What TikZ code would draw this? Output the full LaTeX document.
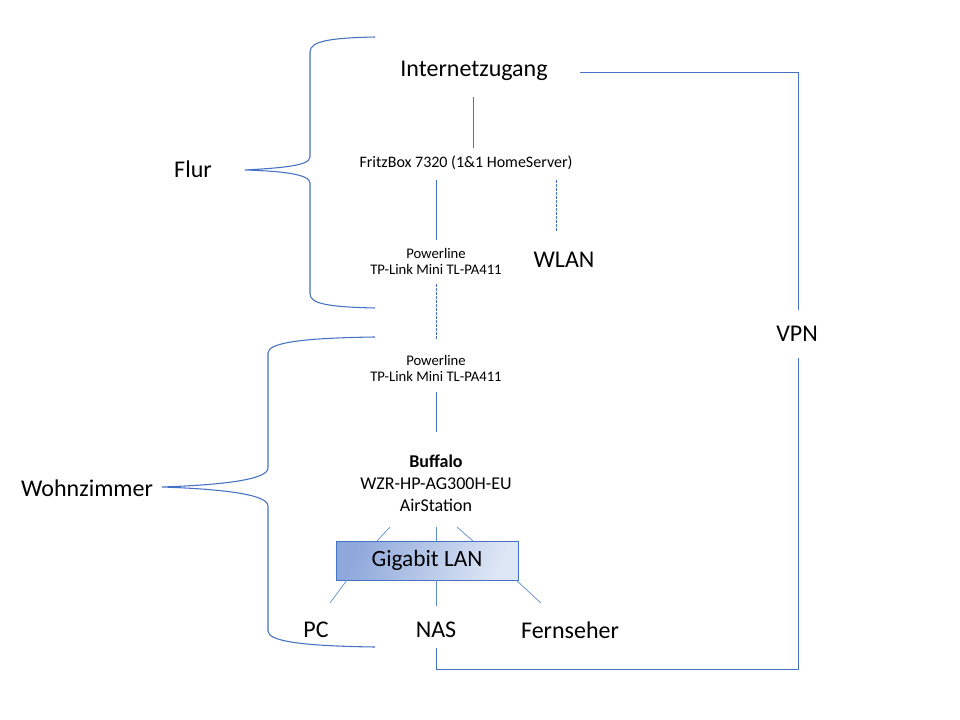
\documentclass[tikz,border=0pt]{standalone}
\usepackage{fontspec}
\setmainfont{Carlito}
\definecolor{lineblue}{RGB}{68,114,196}
\definecolor{thinblue}{RGB}{91,140,205}
\definecolor{boxdark}{RGB}{142,168,219}
\definecolor{boxlight}{RGB}{222,231,245}
\begin{document}
\begin{tikzpicture}[x=0.75pt,y=-0.75pt,
  big/.style={font=\fontsize{18}{21}\selectfont, inner sep=0pt},
  mid/.style={font=\fontsize{13.5}{16.5}\selectfont, inner sep=0pt, align=center},
  small/.style={font=\fontsize{11}{12}\selectfont, inner sep=0pt, align=center},
  conn/.style={draw=lineblue, line width=0.6pt},
  thin/.style={draw=thinblue, line width=0.5pt},
  dash line/.style={draw=lineblue, line width=0.6pt, dash pattern=on 2pt off 1pt},
  brace/.style={draw=lineblue, line width=0.8pt}]
\useasboundingbox (0,0) rectangle (960,720);
\fill[white] (0,0) rectangle (960,720);

% nodes
\node[big] (inet) at (474,71) {Internetzugang};
\node[font=\fontsize{12}{14}\selectfont, inner sep=0pt] (fritz) at (466,163) {FritzBox 7320 (1\&1 HomeServer)};
\node[small] (pl1) at (436,261) {Powerline\\TP-Link Mini TL-PA411};
\node[big] (wlan) at (564,260) {WLAN};
\node[small] (pl2) at (436,368) {Powerline\\TP-Link Mini TL-PA411};
\node[mid] (buff) at (436,483) {\bfseries Buffalo\\WZR-HP-AG300H-EU\\AirStation};
\node[font=\fontsize{17.5}{20}\selectfont, draw=lineblue, line width=0.6pt,
      left color=boxdark, right color=boxlight, shading angle=70,
      minimum width=182*0.75pt, minimum height=39*0.75pt, inner sep=0pt] (lan) at (427,560.5) {Gigabit LAN};
\node[big] (pc) at (316,630) {PC};
\node[big] (nas) at (436,630) {NAS};
\node[big] (tv) at (570,630) {Fernseher};
\node[big] (vpn) at (797,334) {VPN};
\node[big] (flur) at (193,169) {Flur};
\node[big] (wohn) at (87,488) {Wohnzimmer};

% coordinates for connector ends
\coordinate (i1) at (473,97);   \coordinate (i2) at (473,148);
\coordinate (f1) at (436,180);  \coordinate (f2) at (436,240);
\coordinate (w1) at (556,180);  \coordinate (w2) at (556,232);
\coordinate (p1) at (436,284);  \coordinate (p2) at (436,340);
\coordinate (q1) at (436,392);  \coordinate (q2) at (436,432);
\coordinate (b1) at (390,527);  \coordinate (b2) at (377,541);
\coordinate (b3) at (436,527);  \coordinate (b4) at (436,541);
\coordinate (b5) at (457,527);  \coordinate (b6) at (473,541);
\coordinate (l1) at (347,580);  \coordinate (l2) at (330,603);
\coordinate (l3) at (436,580);  \coordinate (l4) at (436,606);
\coordinate (l5) at (516,580);  \coordinate (l6) at (541,603);
\coordinate (v1) at (580,72);   \coordinate (vc1) at (798,72); \coordinate (v2) at (798,310);
\coordinate (v3) at (798,358);  \coordinate (vc2) at (798,669); \coordinate (vc3) at (436,669); \coordinate (v4) at (436,648);

% connectors
\draw[conn] (i1) -- (i2);
\draw[conn] (f1) -- (f2);
\draw[dash line] (w1) -- (w2);
\draw[dash line] (p1) -- (p2);
\draw[conn] (q1) -- (q2);
\draw[thin] (b1) -- (b2);
\draw[thin] (b3) -- (b4);
\draw[thin] (b5) -- (b6);
\draw[thin] (l1) -- (l2);
\draw[thin] (l3) -- (l4);
\draw[thin] (l5) -- (l6);
\draw[conn] (v1) -- (vc1) -- (v2);
\draw[conn] (v3) -- (vc2) -- (vc3) -- (v4);

% braces
\draw[brace] (375,37) .. controls (330,38) and (310,41) .. (310,52)
  -- (310,157) .. controls (310,166) and (280,168) .. (245,170)
  .. controls (280,171) and (310,174) .. (310,183)
  -- (310,294) .. controls (310,304) and (330,307) .. (375,308);
\draw[brace] (375,337) .. controls (300,338) and (268,343) .. (268,353)
  -- (268,468) .. controls (268,480) and (220,485) .. (162,487)
  .. controls (220,489) and (268,494) .. (268,506)
  -- (268,631) .. controls (268,641) and (300,646) .. (375,647);
\end{tikzpicture}
\end{document}
